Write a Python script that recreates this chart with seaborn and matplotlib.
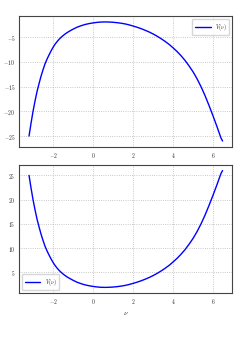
import matplotlib
matplotlib.use("Agg")
import matplotlib.pyplot as plt
import seaborn as sns
import pandas as pd
from matplotlib.ticker import FuncFormatter

nu = [-3.2, -3.1, -3.0, -2.9, -2.8, -2.7, -2.6, -2.5, -2.4, -2.3, -2.2, -2.1,
      -2.0, -1.9, -1.8, -1.7, -1.6, -1.5, -1.4, -1.3, -1.2, -1.1, -1.0, -0.8,
      -0.6, -0.4, -0.2, 0.0, 0.2, 0.4, 0.6, 0.8, 1.0, 1.2, 1.4, 1.6, 1.8, 2.0,
      2.2, 2.4, 2.6, 2.8, 3.0, 3.2, 3.4, 3.6, 3.8, 4.0, 4.2, 4.4, 4.6, 4.8,
      5.0, 5.2, 5.4, 5.6, 5.8, 6.0, 6.2, 6.4, 6.48]
V = [25.0, 22.4, 20.0, 17.9, 16.0, 14.4, 12.9, 11.6, 10.4, 9.45, 8.6, 7.8,
     7.08, 6.45, 5.92, 5.45, 5.05, 4.7, 4.38, 4.1, 3.85, 3.62, 3.4, 3.0,
     2.7, 2.45, 2.27, 2.13, 2.02, 1.95, 1.93, 1.95, 2.0, 2.08, 2.19, 2.33, 2.52, 2.75,
     3.0, 3.28, 3.6, 3.95, 4.35, 4.8, 5.3, 5.85, 6.45, 7.15, 7.9, 8.75, 9.7, 10.8,
     12.0, 13.4, 15.0, 16.8, 18.8, 20.9, 23.1, 25.4, 26.0]
label = r"$V(\nu)$"
xlabel = r"$\nu$"

df = pd.DataFrame({"nu": nu, "V": V, "negV": [-v for v in V]})

sns.set_style("whitegrid", {"grid.linestyle": ":", "grid.color": "#b0b0b0",
                            "axes.edgecolor": "#444444"})
plt.rcParams["mathtext.fontset"] = "cm"
plt.rcParams["font.family"] = ["DejaVu Serif"]

fig = plt.figure(figsize=(2.45, 3.55), dpi=100)
ax1 = fig.add_axes([0.079, 0.586, 0.869, 0.369])
ax2 = fig.add_axes([0.079, 0.174, 0.869, 0.362])

fmt = FuncFormatter(lambda x, p: f"${x:g}$")

sns.lineplot(data=df, x="nu", y="negV", ax=ax1, color="blue", lw=1.0, label=label)
sns.lineplot(data=df, x="nu", y="V", ax=ax2, color="blue", lw=1.0, label=label)

for ax in (ax1, ax2):
    ax.xaxis.set_major_formatter(fmt)
    ax.yaxis.set_major_formatter(fmt)
    ax.tick_params(labelsize=4, length=1.5, width=0.5, pad=1.5, color="#444444")
    ax.grid(True, linestyle=":", linewidth=0.6, color="#b8b8b8")
    for s in ax.spines.values():
        s.set_linewidth(0.8)
        s.set_color("#444444")
    ax.set_ylabel("")
    ax.set_xlabel("")
    ax.set_xticks([-2, 0, 2, 4, 6])

ax1.set_yticks([-25, -20, -15, -10, -5])
ax2.set_yticks([5, 10, 15, 20, 25])
ax2.set_xlabel(xlabel, fontsize=5, labelpad=2)

ax1.legend(loc="upper right", fontsize=4, handlelength=2.8, frameon=True,
           fancybox=True, borderpad=0.5)
ax2.legend(loc="lower left", fontsize=4, handlelength=2.8, frameon=True,
           fancybox=True, borderpad=0.5)

fig.savefig("out.png", dpi=100)
